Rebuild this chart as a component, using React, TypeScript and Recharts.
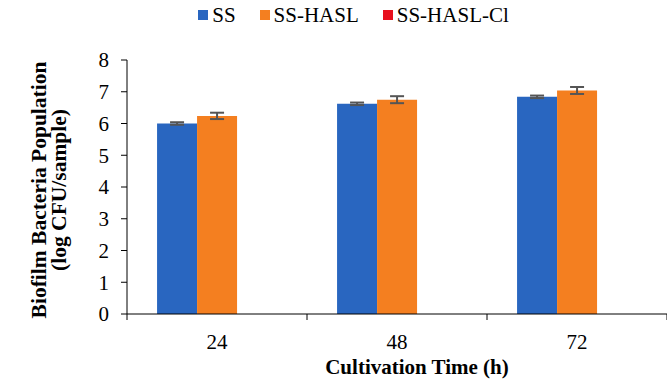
import { Bar, BarChart, ErrorBar, Legend, XAxis, YAxis } from 'recharts';

const categories = ['24', '48', '72'];
const ss = [6.0, 6.62, 6.84];
const ssErr = [0.04, 0.04, 0.04];
const hasl = [6.24, 6.75, 7.04];
const haslErr = [0.1, 0.11, 0.11];
const haslCl = [0, 0, 0];
const yTicks = [0, 1, 2, 3, 4, 5, 6, 7, 8];

const data = categories.map((c, i) => ({
  time: c,
  SS: ss[i],
  ssErr: ssErr[i],
  'SS-HASL': hasl[i],
  haslErr: haslErr[i],
  'SS-HASL-Cl': haslCl[i],
}));

const FONT = "'Liberation Serif', serif";
const BAND = 180;

function XTick(props: any) {
  const { x, y, payload, index } = props;
  const left = x - BAND / 2;
  return (
    <g>
      <line x1={left} y1={y - 8} x2={left} y2={y - 2} stroke="#000" strokeWidth={1} />
      {index === categories.length - 1 && (
        <line x1={left + BAND} y1={y - 8} x2={left + BAND} y2={y - 2} stroke="#000" strokeWidth={1} />
      )}
      <text x={x} y={y + 27} textAnchor="middle" fontFamily={FONT} fontSize={21} fill="#000">
        {payload.value}
      </text>
    </g>
  );
}

function YTitle() {
  const cy = 190;
  return (
    <g fontFamily={FONT} fontSize={21.5} fontWeight="bold" fill="#000">
      <text x={46} y={cy} textAnchor="middle" transform={`rotate(-90, 46, ${cy})`}>
        Biofilm Bacteria Population
      </text>
      <text x={66} y={cy} textAnchor="middle" transform={`rotate(-90, 66, ${cy})`}>
        (log CFU/sample)
      </text>
    </g>
  );
}

function LegendContent(props: any) {
  const { payload } = props;
  return (
    <div style={{ display: 'flex', justifyContent: 'center', gap: 24, fontFamily: FONT, fontSize: 21, color: '#000', height: 26 }}>
      {payload.map((p: any) => (
        <div key={p.value} style={{ display: 'flex', alignItems: 'center' }}>
          <span style={{ display: 'inline-block', width: 10, height: 10, background: p.color, marginRight: 4 }} />
          <span>{p.value}</span>
        </div>
      ))}
    </div>
  );
}

export default function App() {
  return (
    <div style={{ position: 'absolute', left: 0, top: 0, background: '#fff' }}>
      <BarChart
        width={667}
        height={380}
        data={data}
        margin={{ top: 34, right: 0, bottom: 0, left: 0 }}
        barCategoryGap="16.7%"
        barGap={0}
      >
        <Legend
          verticalAlign="top"
          content={<LegendContent />}
          wrapperStyle={{ top: 2, left: 50, width: 607 }}
        />
        <XAxis
          dataKey="time"
          height={66}
          axisLine={{ stroke: '#000' }}
          tickLine={false}
          tick={<XTick />}
          interval={0}
          label={{
            value: 'Cultivation Time (h)',
            position: 'insideBottom',
            offset: 6,
            fontFamily: FONT,
            fontSize: 21,
            fontWeight: 'bold',
            fill: '#000',
            dx: 20,
          }}
        />
        <YAxis
          width={127}
          domain={[0, 8]}
          ticks={yTicks}
          interval={0}
          axisLine={{ stroke: '#000' }}
          tickLine={{ stroke: '#000' }}
          tickSize={6}
          tickMargin={12}
          tick={{ fontFamily: FONT, fontSize: 21, fill: '#000' }}
          label={<YTitle />}
        />
        <Bar dataKey="SS" fill="#2966C0" isAnimationActive={false}>
          <ErrorBar dataKey="ssErr" width={7} stroke="#555" strokeWidth={2} />
        </Bar>
        <Bar dataKey="SS-HASL" fill="#F47F20" isAnimationActive={false}>
          <ErrorBar dataKey="haslErr" width={7} stroke="#555" strokeWidth={2} />
        </Bar>
        <Bar dataKey="SS-HASL-Cl" fill="#E8101E" isAnimationActive={false} />
      </BarChart>
    </div>
  );
}
